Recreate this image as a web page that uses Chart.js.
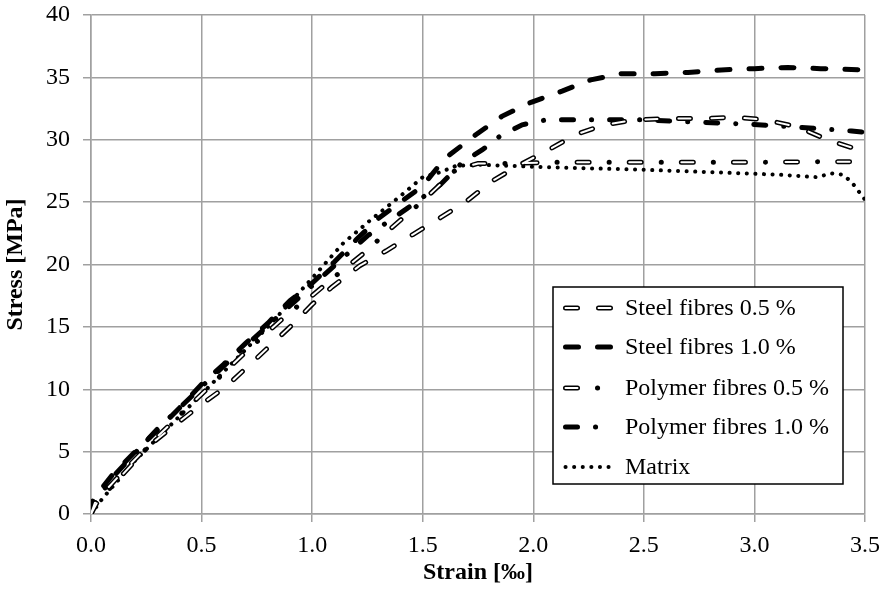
<!DOCTYPE html>
<html>
<head>
<meta charset="utf-8">
<script src="https://cdn.jsdelivr.net/npm/chart.js@4.4.1/dist/chart.umd.min.js"></script>
<style>
  html, body { margin: 0; padding: 0; background: #fff; }
</style>
</head>
<body>
<canvas id="grafico" width="884" height="592"></canvas>
<script>
// dados (deformação em ‰, tensão em MPa)
const nomes = ["Steel fibres 0.5 %", "Steel fibres 1.0 %", "Polymer fibres 0.5 %", "Polymer fibres 1.0 %", "Matrix"];

const steel05Strain = [0, 0.02, 0.15, 0.25, 0.37, 0.5, 0.61, 0.75, 0.9, 1.0, 1.09, 1.215, 1.335, 1.455, 1.58, 1.70, 1.815, 1.94, 2.06, 2.19, 2.32, 2.465, 2.615, 2.765, 2.91, 3.05, 3.2, 3.33, 3.47, 3.5];
const steel05Stress = [0, 1.0, 3.5, 5.3, 7.0, 8.8, 10.2, 12.5, 15.0, 16.8, 18.2, 19.9, 21.1, 22.4, 23.75, 25.1, 26.7, 28.0, 29.1, 30.4, 31.2, 31.6, 31.7, 31.7, 31.8, 31.6, 31.0, 30.0, 29.2, 29.0];

const steel10Strain = [0, 0.01, 0.1, 0.2, 0.3, 0.4, 0.5, 0.6, 0.7, 0.8, 0.9, 1.0, 1.1, 1.2, 1.3, 1.4, 1.5, 1.6, 1.74, 1.86, 1.99, 2.13, 2.26, 2.4, 2.55, 2.7, 2.85, 3.0, 3.15, 3.3, 3.5];
const steel10Stress = [0, 1.2, 3.2, 5.0, 6.7, 8.5, 10.4, 12.0, 13.7, 15.3, 17.1, 18.5, 20.2, 22.0, 23.7, 25.0, 26.3, 28.5, 30.4, 31.9, 33.0, 33.9, 34.8, 35.3, 35.3, 35.4, 35.6, 35.7, 35.8, 35.7, 35.6];

const poly05Strain = [0, 0.03, 0.15, 0.3, 0.5, 0.7, 0.9, 1.0, 1.1, 1.24, 1.35, 1.5, 1.65, 1.75, 1.88, 2.1, 2.5, 3.0, 3.5];
const poly05Stress = [0, 1.0, 3.3, 6.2, 9.6, 13.0, 16.2, 17.5, 19.0, 21.0, 22.8, 25.1, 27.6, 28.1, 28.1, 28.2, 28.2, 28.2, 28.25];

const poly10Strain = [0, 0.02, 0.1, 0.3, 0.5, 0.7, 0.9, 1.0, 1.25, 1.43, 1.58, 1.68, 1.77, 1.85, 1.95, 2.06, 2.28, 2.49, 2.75, 2.98, 3.2, 3.44, 3.5];
const poly10Stress = [0, 1.0, 3.0, 6.8, 10.2, 13.5, 16.7, 18.3, 22.3, 24.5, 26.4, 28.2, 29.2, 30.3, 31.2, 31.6, 31.6, 31.6, 31.4, 31.25, 31.0, 30.7, 30.6];

const matrixStrain = [0, 0.05, 0.2, 0.5, 0.8, 1.0, 1.14, 1.26, 1.4, 1.5, 1.58, 1.65, 1.75, 2.06, 2.49, 2.81, 3.11, 3.28, 3.35, 3.4, 3.44, 3.5];
const matrixStress = [0, 1.2, 4.3, 9.6, 15.0, 18.9, 21.7, 23.5, 25.5, 27.0, 27.4, 27.9, 28.0, 27.8, 27.6, 27.4, 27.2, 27.0, 27.3, 27.2, 26.6, 25.2];

// eixos
const xTicks = [0, 0.5, 1.0, 1.5, 2.0, 2.5, 3.0, 3.5];
const yTicks = [0, 5, 10, 15, 20, 25, 30, 35, 40];

const serif = '"Liberation Serif", "Times New Roman", serif';

// estilo de cada curva: largura, traço, e traço branco por dentro (linha "vazada")
const estilos = [
  { w: 5, dash: [12, 21], oco: [12, 21] },
  { w: 5, dash: [13, 19], oco: null },
  { w: 5, dash: [12, 20, 0.1, 20], oco: [12, 40.1] },
  { w: 5, dash: [12, 18, 0.1, 18], oco: null },
  { w: 4, dash: [0.1, 8.5], oco: null }
];

const series = [
  [steel05Strain, steel05Stress],
  [steel10Strain, steel10Stress],
  [poly05Strain, poly05Stress],
  [poly10Strain, poly10Stress],
  [matrixStrain, matrixStress]
];

function pontos(xs, ys) {
  return xs.map(function (x, i) { return { x: x, y: ys[i] }; });
}

var datasets = [];
series.forEach(function (s, i) {
  var st = estilos[i];
  datasets.push({
    label: nomes[i],
    data: pontos(s[0], s[1]),
    borderColor: '#000',
    borderWidth: st.w,
    borderDash: st.dash,
    borderCapStyle: 'round',
    pointRadius: 0,
    tension: 0,
    order: 1
  });
  if (st.oco) {
    datasets.push({
      label: nomes[i] + ' (oco)',
      data: pontos(s[0], s[1]),
      borderColor: '#fff',
      borderWidth: 2,
      borderDash: st.oco,
      borderCapStyle: 'round',
      pointRadius: 0,
      tension: 0,
      order: 0
    });
  }
});

function tracoAmostra(ctx, x0, x1, y, st) {
  ctx.save();
  ctx.lineCap = 'round';
  ctx.strokeStyle = '#000';
  ctx.lineWidth = st.w;
  ctx.setLineDash(st.dash);
  ctx.beginPath(); ctx.moveTo(x0, y); ctx.lineTo(x1, y); ctx.stroke();
  if (st.oco) {
    ctx.strokeStyle = '#fff';
    ctx.lineWidth = 2;
    ctx.setLineDash(st.oco);
    ctx.beginPath(); ctx.moveTo(x0, y); ctx.lineTo(x1, y); ctx.stroke();
  }
  ctx.restore();
}

// legenda desenhada à mão, dentro da área do gráfico
const legendaPlugin = {
  id: 'legenda',
  afterDraw: function (chart) {
    var ctx = chart.ctx;
    var linhas = [308, 347, 388, 427, 467];
    ctx.save();
    ctx.fillStyle = '#fff';
    ctx.fillRect(553, 287, 290, 197);
    ctx.strokeStyle = '#000';
    ctx.lineWidth = 1.5;
    ctx.strokeRect(553, 287, 290, 197);
    ctx.font = '24px ' + serif;
    ctx.textBaseline = 'middle';
    nomes.forEach(function (nome, i) {
      tracoAmostra(ctx, 565.5, 612, linhas[i], estilos[i]);
      ctx.fillStyle = '#000';
      ctx.fillText(nome, 625, linhas[i] + 1);
    });
    ctx.restore();
  }
};

const grade = { color: '#a0a0a0', lineWidth: 1.5, tickLength: 8 };

new Chart(document.getElementById('grafico'), {
  type: 'line',
  data: { datasets: datasets },
  options: {
    responsive: false,
    animation: false,
    layout: { padding: { top: 15, right: 19, left: 0, bottom: 0 } },
    plugins: { legend: { display: false }, tooltip: { enabled: false } },
    scales: {
      x: {
        type: 'linear', min: 0, max: 3.5,
        afterBuildTicks: function (axis) { axis.ticks = xTicks.map(function (v) { return { value: v }; }); },
        afterFit: function (axis) { axis.height = 78; axis.paddingLeft = 0; axis.paddingRight = 0; },
        grid: grade,
        border: { color: '#a0a0a0', width: 1.5 },
        ticks: { color: '#000', padding: 9, font: { family: serif, size: 24 }, callback: function (v) { return v.toFixed(1); } },
        title: { display: true, text: 'Strain [‰]', color: '#000', padding: { top: 0, bottom: 5 }, font: { family: serif, size: 24, weight: 'bold' } }
      },
      y: {
        type: 'linear', min: 0, max: 40,
        afterBuildTicks: function (axis) { axis.ticks = yTicks.map(function (v) { return { value: v }; }); },
        afterFit: function (axis) { axis.width = 91; axis.paddingTop = 0; axis.paddingBottom = 0; },
        grid: grade,
        border: { color: '#a0a0a0', width: 1.5 },
        ticks: { color: '#000', padding: 13, font: { family: serif, size: 24 } },
        title: { display: true, text: 'Stress [MPa]', color: '#000', padding: { top: 1, bottom: 0 }, font: { family: serif, size: 24, weight: 'bold' } }
      }
    }
  },
  plugins: [legendaPlugin]
});
</script>
</body>
</html>
